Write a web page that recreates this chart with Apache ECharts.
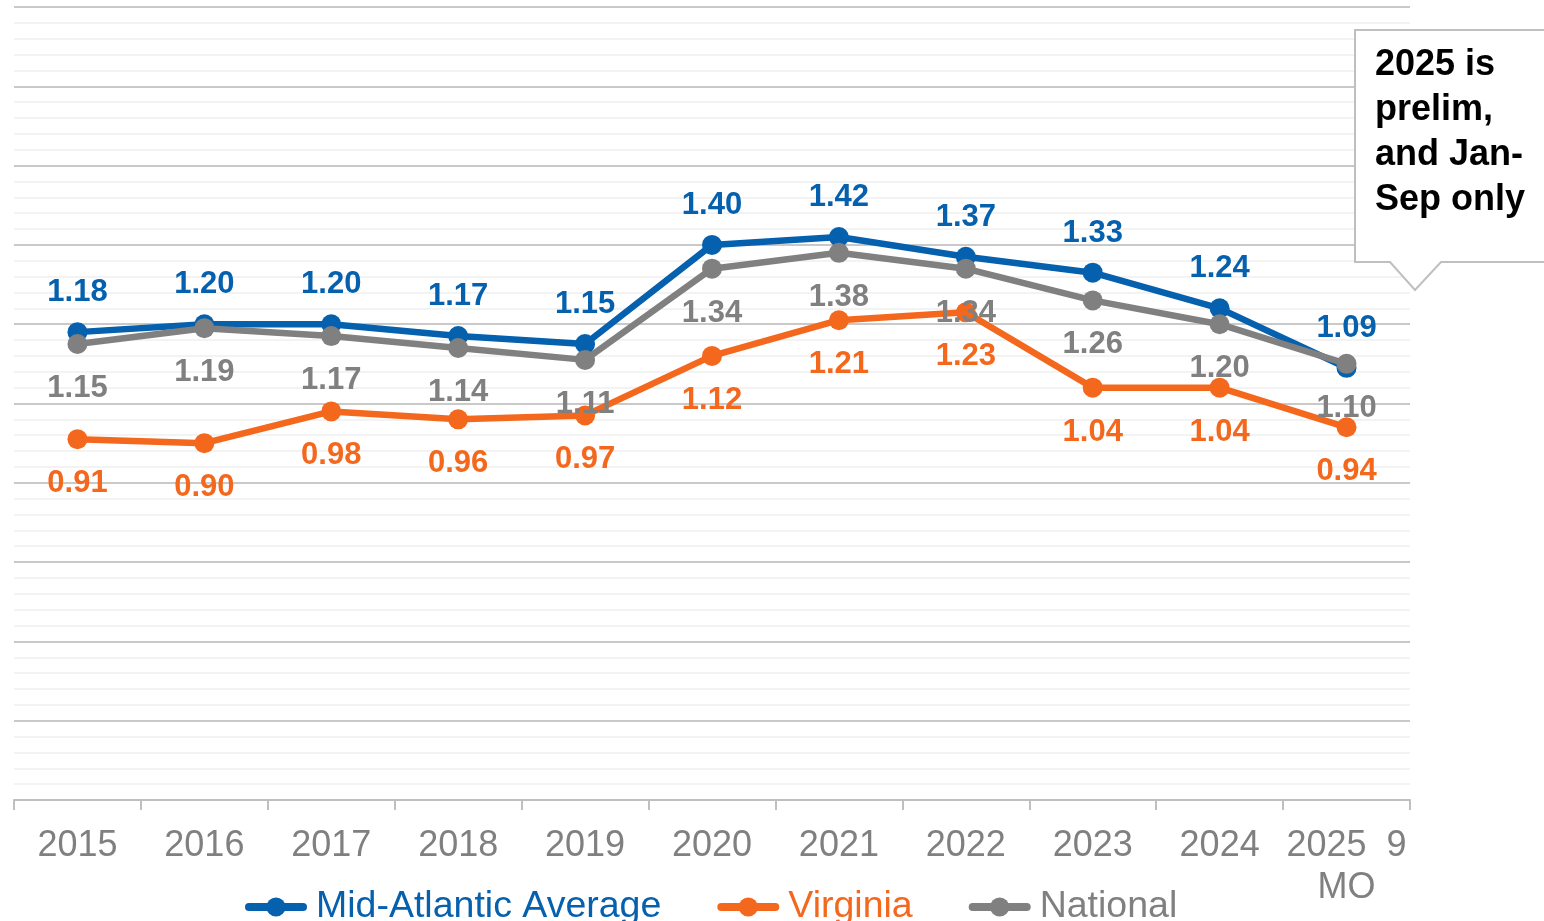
<!DOCTYPE html>
<html>
<head>
<meta charset="utf-8">
<style>
  html, body { margin: 0; padding: 0; background: #fff; }
  #chart { width: 1544px; height: 921px; }
</style>
<script src="https://cdn.jsdelivr.net/npm/echarts@6/dist/echarts.min.js"></script>
</head>
<body>
<div id="chart"></div>
<script>
var years = ['2015', '2016', '2017', '2018', '2019', '2020', '2021', '2022', '2023', '2024', '2025  9\nMO'];
var midAtlantic = [1.18, 1.20, 1.20, 1.17, 1.15, 1.40, 1.42, 1.37, 1.33, 1.24, 1.09];
var virginia = [0.91, 0.90, 0.98, 0.96, 0.97, 1.12, 1.21, 1.23, 1.04, 1.04, 0.94];
var national = [1.15, 1.19, 1.17, 1.14, 1.11, 1.34, 1.38, 1.34, 1.26, 1.20, 1.10];
var noteLines = ['2025 is', 'prelim,', 'and Jan-', 'Sep only'];

var blue = '#0560ae', orange = '#f4681d', grey = '#808080';
var font = 'Liberation Sans, Arial, sans-serif';

var myChart = echarts.init(document.getElementById('chart'));

function makeSeries(name, data, color, pos, dist) {
    return {
        name: name,
        type: 'line',
        data: data,
        symbol: 'circle',
        symbolSize: 20,
        itemStyle: { color: color },
        lineStyle: { color: color, width: 6.5 },
        label: {
            show: true,
            position: pos,
            distance: dist,
            color: color,
            fontFamily: font,
            fontWeight: 'bold',
            fontSize: 31,
            formatter: function (p) { return p.value.toFixed(2); }
        },
        emphasis: { disabled: true },
        animation: false
    };
}

var option = {
    backgroundColor: '#fff',
    grid: { left: 14, right: 134, top: 7, bottom: 121 },
    legend: {
        left: 240,
        top: 883,
        itemWidth: 54,
        itemHeight: 24,
        itemGap: 56,
        lineStyle: { width: 8, cap: 'round' },
        textStyle: { fontFamily: font, fontSize: 37.5, color: 'inherit', padding: [0, 0, 0, 8] },
        data: ['Mid-Atlantic Average', 'Virginia', 'National']
    },
    xAxis: {
        type: 'category',
        data: years,
        boundaryGap: true,
        axisLine: { lineStyle: { color: '#bfbfbf', width: 2 } },
        axisTick: { show: true, length: 10, lineStyle: { color: '#bfbfbf', width: 2 } },
        axisLabel: {
            color: grey,
            fontFamily: font,
            fontSize: 36,
            lineHeight: 42,
            margin: 25,
            interval: 0
        }
    },
    yAxis: {
        type: 'value',
        min: 0,
        max: 2,
        interval: 0.2,
        axisLabel: { show: false },
        axisLine: { show: false },
        axisTick: { show: false },
        splitLine: { lineStyle: { color: '#c9c9c9', width: 2 } },
        minorTick: { show: false, splitNumber: 5 },
        minorSplitLine: { show: true, lineStyle: { color: '#efefef', width: 1.5 } }
    },
    series: [
        makeSeries('Mid-Atlantic Average', midAtlantic, blue, 'top', 14),
        makeSeries('Virginia', virginia, orange, 'bottom', 19),
        makeSeries('National', national, grey, 'bottom', 19)
    ],
    graphic: [
        {
            type: 'polygon',
            z: 100,
            shape: {
                points: [[1355, 30], [1560, 30], [1560, 262], [1441, 262], [1415, 290], [1390, 262], [1355, 262]]
            },
            style: { fill: '#fff', stroke: '#bfbfbf', lineWidth: 2 }
        },
        {
            type: 'text',
            z: 101,
            left: 1375,
            top: 43,
            style: {
                text: noteLines.join('\n'),
                fontFamily: font,
                fontWeight: 'bold',
                fontSize: 36,
                lineHeight: 45,
                fill: '#000'
            }
        }
    ]
};

myChart.setOption(option);
</script>
</body>
</html>
